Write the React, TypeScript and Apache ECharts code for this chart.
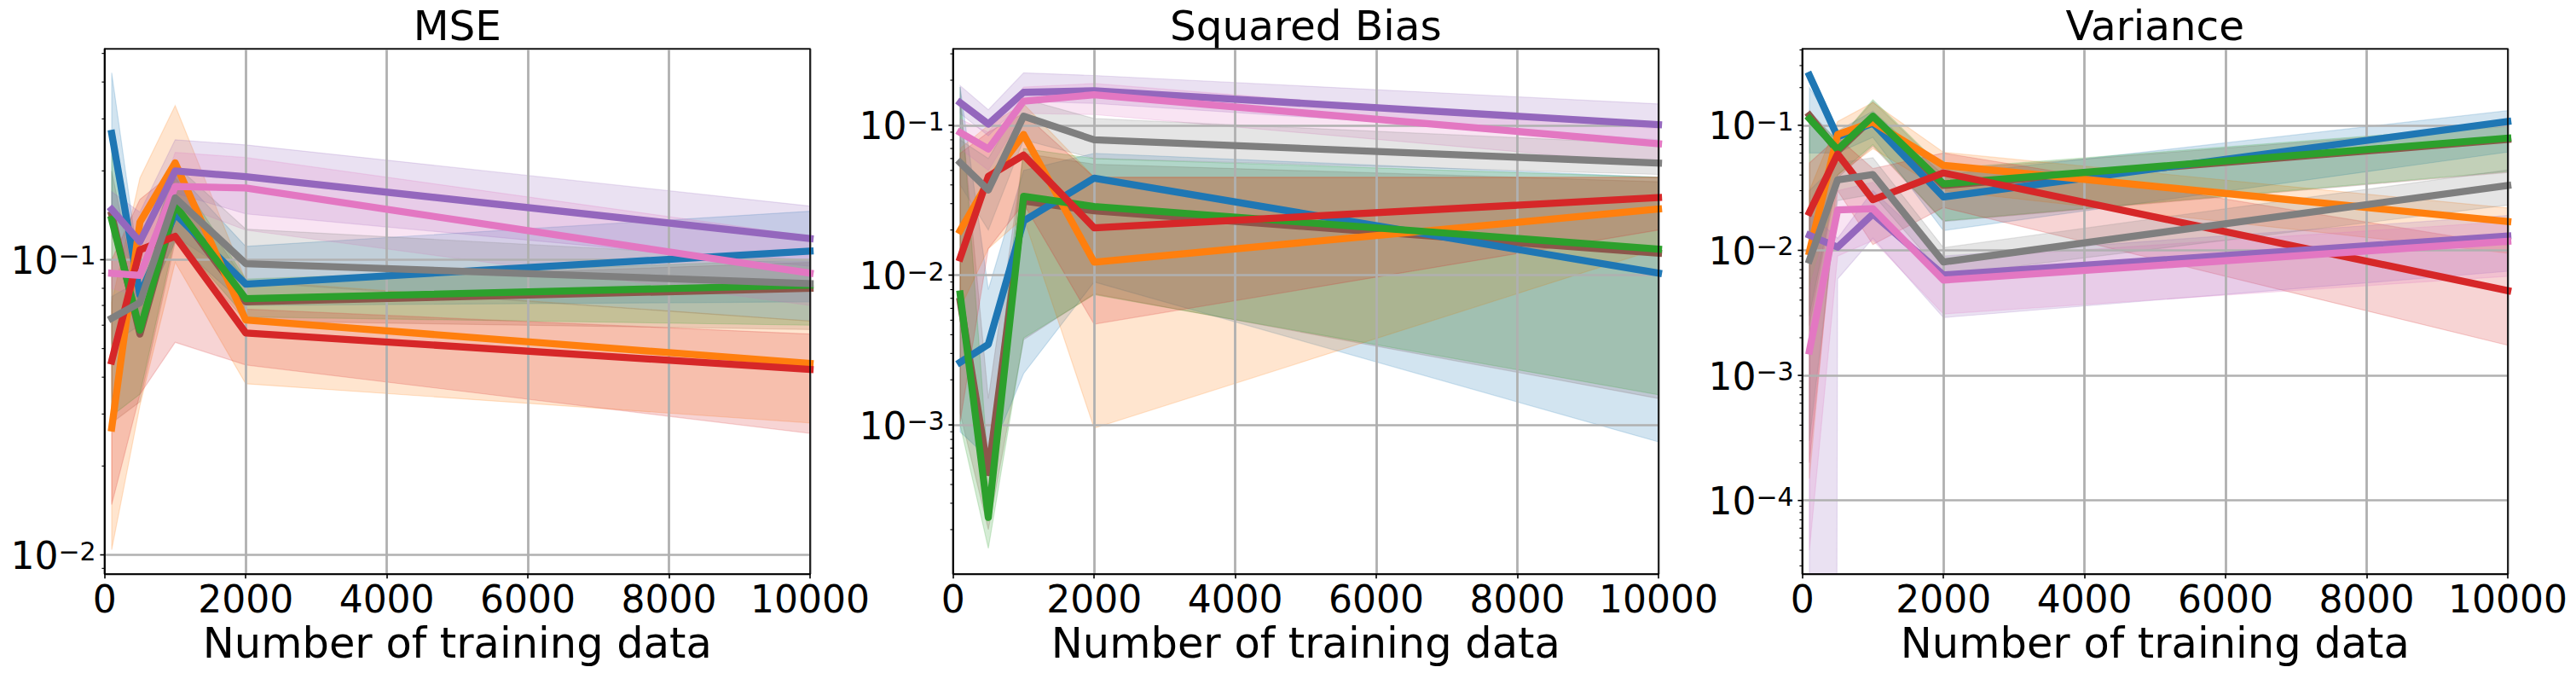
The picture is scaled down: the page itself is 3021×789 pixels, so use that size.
import React, { useEffect, useRef } from 'react';
import * as echarts from 'echarts';

// ---------- data ----------
const trainingSizes = [100, 500, 1000, 2000, 10000];
const xTickValues = [0, 2000, 4000, 6000, 8000, 10000];
const panelTitles = ['MSE', 'Squared Bias', 'Variance'];
const xAxisTitle = 'Number of training data';
const yMins = [0.00861, 1.01e-4, 2.58e-5];
const yMaxs = [0.518, 0.3237, 0.408];

const methodColors = ['#8c564b', '#1f77b4', '#ff7f0e', '#2ca02c', '#d62728', '#9467bd', '#e377c2', '#7f7f7f'];

// MSE
const mseBrown = [0.142, 0.056, 0.15, 0.072, 0.08];
const mseBrownLow = [0.028, 0.033, 0.115, 0.062, 0.058];
const mseBrownHigh = [0.2, 0.068, 0.19, 0.084, 0.098];
const mseBlue = [0.268, 0.076, 0.143, 0.0827, 0.107];
const mseBlueLow = [0.14, 0.065, 0.115, 0.07, 0.072];
const mseBlueHigh = [0.43, 0.09, 0.2, 0.111, 0.146];
const mseOrange = [0.0269, 0.134, 0.213, 0.0625, 0.0445];
const mseOrangeLow = [0.0104, 0.032, 0.098, 0.038, 0.028];
const mseOrangeHigh = [0.0715, 0.189, 0.333, 0.085, 0.062];
const mseGreen = [0.137, 0.0577, 0.153, 0.0738, 0.082];
const mseGreenLow = [0.0296, 0.035, 0.12, 0.064, 0.06];
const mseGreenHigh = [0.25, 0.07, 0.2, 0.086, 0.1];
const mseRed = [0.0454, 0.108, 0.12, 0.0565, 0.0425];
const mseRedLow = [0.0148, 0.035, 0.0525, 0.044, 0.0258];
const mseRedHigh = [0.1, 0.16, 0.2, 0.068, 0.056];
const msePurple = [0.148, 0.115, 0.2, 0.191, 0.118];
const msePurpleLow = [0.12, 0.09, 0.168, 0.143, 0.095];
const msePurpleHigh = [0.17, 0.145, 0.255, 0.245, 0.152];
const msePink = [0.09, 0.0885, 0.177, 0.175, 0.09];
const msePinkLow = [0.08, 0.075, 0.155, 0.126, 0.07];
const msePinkHigh = [0.1, 0.1, 0.231, 0.222, 0.12];
const mseGray = [0.0633, 0.0715, 0.162, 0.097, 0.083];
const mseGrayLow = [0.052, 0.06, 0.12, 0.084, 0.062];
const mseGrayHigh = [0.075, 0.085, 0.21, 0.127, 0.1];

// Squared bias
const biasBrown = [0.0067, 0.00048, 0.0312, 0.0269, 0.014];
const biasBrownLow = [0.0012, 0.0002, 0.0037, 0.0075, 0.0015];
const biasBrownHigh = [0.15, 0.0015, 0.065, 0.055, 0.042];
const biasBlue = [0.00262, 0.00345, 0.023, 0.0444, 0.0103];
const biasBlueLow = [0.0009, 0.0006, 0.0022, 0.009, 0.00077];
const biasBlueHigh = [0.18, 0.008, 0.05, 0.065, 0.045];
const biasOrange = [0.0198, 0.042, 0.0868, 0.0122, 0.0276];
const biasOrangeLow = [0.006, 0.015, 0.0242, 0.00095, 0.015];
const biasOrangeHigh = [0.07, 0.1, 0.139, 0.045, 0.045];
const biasGreen = [0.00748, 0.000241, 0.0336, 0.0287, 0.0149];
const biasGreenLow = [0.001, 0.00015, 0.0038, 0.0074, 0.00159];
const biasGreenHigh = [0.18, 0.0005, 0.07, 0.06, 0.045];
const biasRed = [0.013, 0.0456, 0.0632, 0.0207, 0.0329];
const biasRedLow = [0.00105, 0.015, 0.03, 0.0047, 0.02];
const biasRedHigh = [0.065, 0.09, 0.12, 0.045, 0.045];
const biasPurple = [0.1415, 0.102, 0.166, 0.17, 0.101];
const biasPurpleLow = [0.12, 0.085, 0.145, 0.14, 0.08];
const biasPurpleHigh = [0.184, 0.127, 0.224, 0.215, 0.139];
const biasPink = [0.0895, 0.0695, 0.145, 0.16, 0.0753];
const biasPinkLow = [0.07, 0.05, 0.12, 0.118, 0.055];
const biasPinkHigh = [0.11, 0.09, 0.18, 0.19, 0.095];
const biasGray = [0.0563, 0.037, 0.115, 0.08, 0.056];
const biasGrayLow = [0.04, 0.02, 0.08, 0.06, 0.047];
const biasGrayHigh = [0.08, 0.06, 0.15, 0.111, 0.075];

// Variance
const varBrown = [0.12, 0.062, 0.115, 0.033, 0.077];
const varBrownLow = [0.0025, 0.038, 0.068, 0.017, 0.042];
const varBrownHigh = [0.13, 0.075, 0.155, 0.044, 0.098];
const varBlue = [0.251, 0.0807, 0.104, 0.0267, 0.107];
const varBlueLow = [0.06, 0.06, 0.08, 0.0144, 0.061];
const varBlueHigh = [0.2, 0.09, 0.13, 0.04, 0.131];
const varOrange = [0.00975, 0.0844, 0.106, 0.0478, 0.017];
const varOrangeLow = [0.00015, 0.04, 0.065, 0.03, 0.0095];
const varOrangeHigh = [0.03, 0.107, 0.152, 0.0608, 0.0218];
const varGreen = [0.113, 0.0639, 0.118, 0.034, 0.0789];
const varGreenLow = [0.003, 0.04, 0.07, 0.0172, 0.0427];
const varGreenHigh = [0.125, 0.075, 0.16, 0.045, 0.1];
const varRed = [0.0201, 0.0589, 0.0254, 0.0416, 0.00476];
const varRedLow = [0.0002, 0.03, 0.0111, 0.022, 0.00174];
const varRedHigh = [0.05, 0.08, 0.045, 0.06, 0.011];
const varPurple = [0.0132, 0.0106, 0.0195, 0.00635, 0.013];
const varPurpleLow = [1e-100, 0.0059, 0.0125, 0.0029, 0.0068];
const varPurpleHigh = [0.02, 0.0125, 0.03, 0.009, 0.019];
const varPink = [0.00157, 0.021, 0.0215, 0.00578, 0.0118];
const varPinkLow = [4e-5, 0.009, 0.012, 0.0031, 0.0062];
const varPinkHigh = [0.005, 0.03, 0.035, 0.0085, 0.017];
const varGray = [0.00834, 0.0366, 0.0403, 0.00807, 0.033];
const varGrayLow = [0.0003, 0.025, 0.028, 0.0063, 0.023];
const varGrayHigh = [0.03, 0.05, 0.055, 0.0105, 0.044];

const panels = [
  {
    means: [mseBrown, mseBlue, mseOrange, mseGreen, mseRed, msePurple, msePink, mseGray],
    lows: [mseBrownLow, mseBlueLow, mseOrangeLow, mseGreenLow, mseRedLow, msePurpleLow, msePinkLow, mseGrayLow],
    highs: [mseBrownHigh, mseBlueHigh, mseOrangeHigh, mseGreenHigh, mseRedHigh, msePurpleHigh, msePinkHigh, mseGrayHigh],
  },
  {
    means: [biasBrown, biasBlue, biasOrange, biasGreen, biasRed, biasPurple, biasPink, biasGray],
    lows: [biasBrownLow, biasBlueLow, biasOrangeLow, biasGreenLow, biasRedLow, biasPurpleLow, biasPinkLow, biasGrayLow],
    highs: [biasBrownHigh, biasBlueHigh, biasOrangeHigh, biasGreenHigh, biasRedHigh, biasPurpleHigh, biasPinkHigh, biasGrayHigh],
  },
  {
    means: [varBrown, varBlue, varOrange, varGreen, varRed, varPurple, varPink, varGray],
    lows: [varBrownLow, varBlueLow, varOrangeLow, varGreenLow, varRedLow, varPurpleLow, varPinkLow, varGrayLow],
    highs: [varBrownHigh, varBlueHigh, varOrangeHigh, varGreenHigh, varRedHigh, varPurpleHigh, varPinkHigh, varGrayHigh],
  },
];

// ---------- layout / style ----------
const FONT = 'DejaVu Sans';
const gridLefts = [122.7, 1117.7, 2113.7];
const gridTop = 57.3;
const gridWidth = 827.3;
const gridHeight = 615.7;
const GRID_COLOR = '#b0b0b0';

function rgba(hex: string, a: number) {
  const n = parseInt(hex.slice(1), 16);
  return `rgba(${(n >> 16) & 255},${(n >> 8) & 255},${n & 255},${a})`;
}

function logLabel(v: number) {
  const e = Math.log10(v);
  const r = Math.round(e);
  if (Math.abs(e - r) > 1e-6) return '';
  return `{b|10}{s|${r < 0 ? '\u2212' : ''}${Math.abs(r)}}`;
}

function logTicks(min: number, max: number) {
  const out: number[][] = [];
  for (let k = Math.floor(Math.log10(min)); k <= Math.ceil(Math.log10(max)); k++) {
    for (let m = 1; m <= 9; m++) {
      const v = m * Math.pow(10, k);
      if (v >= min * 1.0001 && v <= max / 1.0001) out.push([0, v, m === 1 ? 1 : 0]);
    }
  }
  return out;
}

function buildOption() {
  const grid: any[] = [];
  const xAxis: any[] = [];
  const yAxis: any[] = [];
  const series: any[] = [];

  panels.forEach((panel, i) => {
    grid.push({
      left: gridLefts[i], top: gridTop, width: gridWidth, height: gridHeight,
      show: true, borderColor: '#000', borderWidth: 1.6, backgroundColor: 'transparent', z: 5,
    });
    xAxis.push({
      type: 'value', gridIndex: i, min: 0, max: 10000, interval: 2000, z: 1,
      name: xAxisTitle, nameLocation: 'middle', nameGap: 56.3,
      nameTextStyle: { fontSize: 49.5, fontFamily: FONT, color: '#000' },
      axisLine: { show: true, lineStyle: { color: '#000', width: 1.6 } },
      axisTick: { show: true, inside: false, length: 5.3, lineStyle: { color: '#000', width: 1.6 } },
      axisLabel: {
        fontSize: 44, fontFamily: FONT, color: '#000', margin: 7,
        showMinLabel: true, showMaxLabel: true,
        formatter: (v: number) => (xTickValues.includes(v) ? String(v) : ''),
      },
      splitLine: { show: true, lineStyle: { color: GRID_COLOR, width: 2.8 } },
    });
    yAxis.push({
      type: 'log', logBase: 10, gridIndex: i, min: yMins[i], max: yMaxs[i], z: 1,
      axisLine: { show: true, lineStyle: { color: '#000', width: 1.6 } },
      axisTick: { show: false },
      minorTick: { show: false },
      axisLabel: {
        margin: 10,
        formatter: logLabel,
        rich: {
          b: { fontSize: 44, fontFamily: FONT, color: '#000', lineHeight: 46, verticalAlign: 'bottom', padding: [7, 0, 0, 0] },
          s: { fontSize: 30, fontFamily: FONT, color: '#000', verticalAlign: 'top', padding: [3.5, 0, 0, 0] },
        },
      },
      splitLine: { show: true, lineStyle: { color: GRID_COLOR, width: 2.6 } },
    });
  });

  // top axes carrying the panel titles
  panels.forEach((_, i) => {
    xAxis.push({
      type: 'value', gridIndex: i, position: 'top', min: 0, max: 10000,
      name: panelTitles[i], nameLocation: 'middle', nameGap: 3,
      nameTextStyle: { fontSize: 48.5, fontFamily: FONT, color: '#000', verticalAlign: 'bottom' },
      axisLine: { show: false }, axisTick: { show: false }, axisLabel: { show: false }, splitLine: { show: false },
    });
  });

  panels.forEach((panel, i) => {
    // bands
    panel.means.forEach((_, s) => {
      const lo = panel.lows[s];
      const hi = panel.highs[s];
      const c = methodColors[s];
      series.push({
        type: 'custom', xAxisIndex: i, yAxisIndex: i, clip: true, z: 0, silent: true,
        data: trainingSizes.map((x, j) => [x, lo[j], hi[j]]),
        renderItem: (params: any, api: any) => {
          if (params.dataIndex !== 0) return null;
          const up = trainingSizes.map((x, j) => api.coord([x, hi[j]]));
          const dn = trainingSizes.map((x, j) => api.coord([x, lo[j]])).reverse();
          return {
            type: 'polygon',
            shape: { points: up.concat(dn) },
            style: { fill: rgba(c, 0.2), stroke: rgba(c, 0.2), lineWidth: 1.2 },
          };
        },
      });
    });
    // mean lines
    panel.means.forEach((m, s) => {
      series.push({
        type: 'line', xAxisIndex: i, yAxisIndex: i, z: 2, silent: true,
        data: trainingSizes.map((x, j) => [x, m[j]]),
        showSymbol: false, symbol: 'none',
        lineStyle: { color: methodColors[s], width: 8.3, cap: 'square', join: 'round' },
      });
    });
    // y ticks (major + minor, matplotlib style)
    series.push({
      type: 'custom', xAxisIndex: i, yAxisIndex: i, clip: false, z: 6, silent: true,
      data: logTicks(yMins[i], yMaxs[i]),
      renderItem: (params: any, api: any) => {
        const p = api.coord([api.value(0), api.value(1)]);
        const major = api.value(2) === 1;
        const len = major ? 5.3 : 3.3;
        return {
          type: 'line',
          shape: { x1: p[0] - len, y1: p[1], x2: p[0], y2: p[1] },
          style: { stroke: '#000', lineWidth: major ? 1.6 : 1.1 },
        };
      },
    });
  });

  return { animation: false, backgroundColor: '#fff', grid, xAxis, yAxis, series };
}

export default function App() {
  const ref = useRef<HTMLDivElement>(null);
  useEffect(() => {
    document.body.style.margin = '0';
    const chart = echarts.init(ref.current!, null, { renderer: 'svg' });
    chart.setOption(buildOption() as any);
    return () => chart.dispose();
  }, []);
  return <div ref={ref} style={{ width: 3021, height: 789 }} />;
}
